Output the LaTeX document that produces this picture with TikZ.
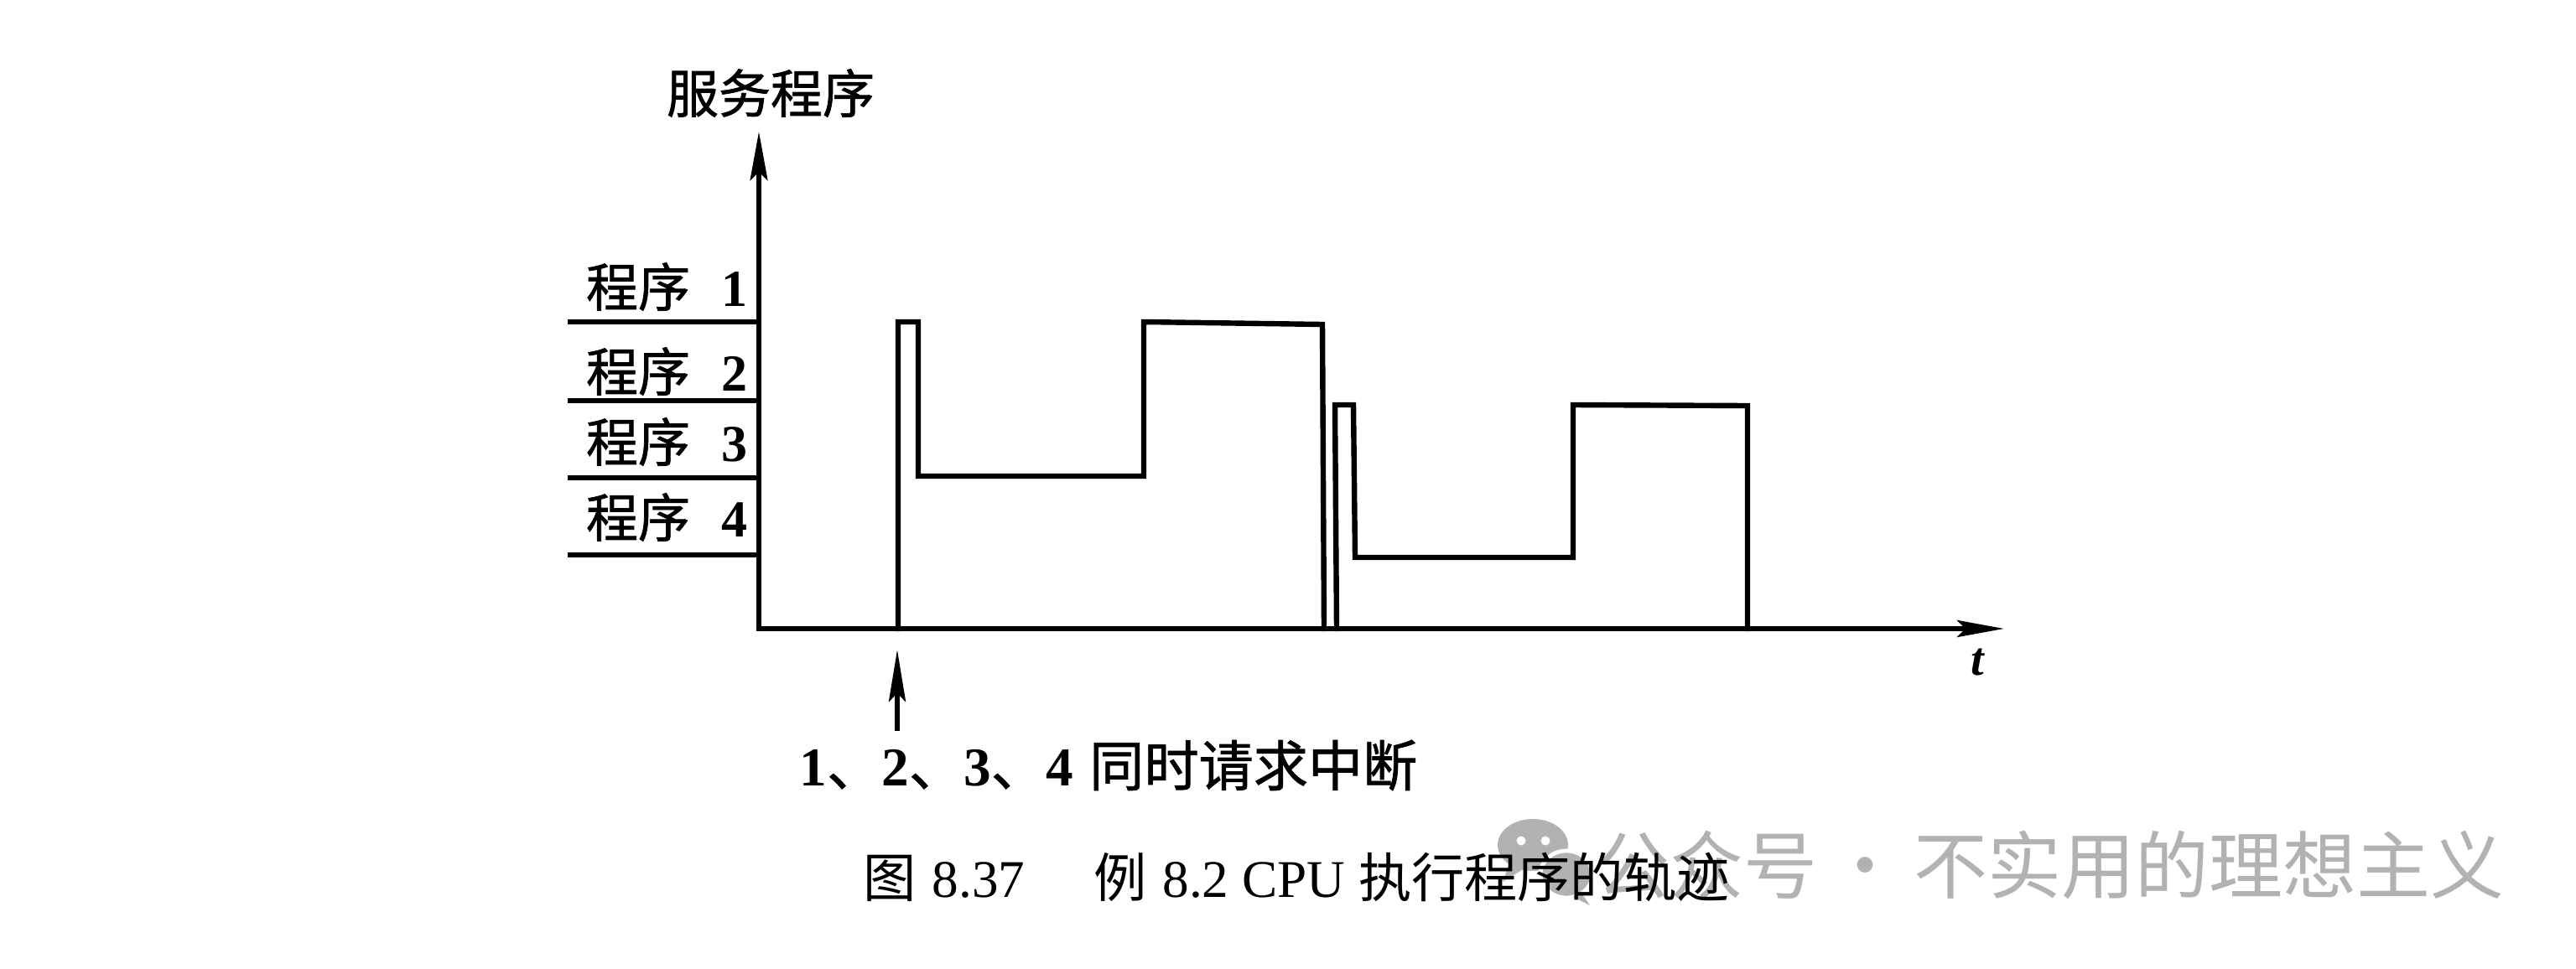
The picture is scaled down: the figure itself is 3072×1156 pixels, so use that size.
\documentclass[tikz,border=0pt]{standalone}
\usepackage{fontspec}
\setmainfont{Liberation Serif}
\newfontfamily\cjk{Noto Sans CJK SC}
\newfontfamily\cjkb[FakeBold=1.2]{Noto Sans CJK SC}
\usetikzlibrary{arrows.meta}
\definecolor{wmgray}{RGB}{178,178,178}
\begin{document}
\begin{tikzpicture}[x=0.25pt,y=-0.25pt,
  trace/.style={line width=1.6pt, line join=miter, line cap=rect},
  axisline/.style={line width=1.5pt},
  lbl/.style={inner sep=0pt, font=\fontsize{15.5}{18}\selectfont}]
\useasboundingbox (0,0) rectangle (3072,1156);
\fill[white] (0,0) rectangle (3072,1156);

% watermark (behind caption)
\fill[wmgray] (1828,1008) ellipse [x radius=42, y radius=31];
\fill[wmgray] (1800,1030) -- (1792,1052) -- (1818,1036) -- cycle;
\fill[white] (1814,1003) circle [radius=5.5];
\fill[white] (1843,1003) circle [radius=5.5];
\filldraw[fill=wmgray, draw=white, line width=1.2pt] (1868,1043) ellipse [x radius=31, y radius=28];
\fill[wmgray] (1885,1064) -- (1896,1080) -- (1876,1070) -- cycle;
\node[anchor=west, inner sep=0pt, text=wmgray, font=\cjk\fontsize{22}{26}\selectfont] (wm) at (1903,1032) {公众号\hspace{0.15em}·\hspace{0.15em}不实用的理想主义};

% axes
\coordinate (O) at (905,750);
\coordinate (Ytip) at (905,157);
\coordinate (Xtip) at (2390,750);
\draw[axisline, {Stealth[length=14.5pt,width=5.2pt,inset=2.5pt]}-{Stealth[length=14pt,width=5pt,inset=2.5pt]}] (Ytip) -- (O) -- (Xtip);

% level lines
\foreach \n/\y in {1/384, 2/478, 3/570, 4/662} {
  \coordinate (L\n) at (677,\y);
  \coordinate (A\n) at (905,\y);
  \draw[axisline] (L\n) -- (A\n);
}

% labels
\node[lbl, anchor=east] (p1) at (892,342) {{\cjkb 程序}\hspace{0.6em}\textbf{1}};
\node[lbl, anchor=east] (p2) at (892,443) {{\cjkb 程序}\hspace{0.6em}\textbf{2}};
\node[lbl, anchor=east] (p3) at (892,527) {{\cjkb 程序}\hspace{0.6em}\textbf{3}};
\node[lbl, anchor=east] (p4) at (892,617) {{\cjkb 程序}\hspace{0.6em}\textbf{4}};
\node[lbl] (ylab) at (919,111) {\cjkb 服务程序};
\node[inner sep=0pt, font=\fontsize{14}{16}\selectfont\bfseries\itshape] (tlab) at (2358,790) {t};

% traces
\draw[trace] (1071,750) -- (1071,384) -- (1095,384) -- (1095,568) -- (1364,568)
  -- (1364,384) -- (1577,387) -- (1579,750);
\draw[trace] (1594,750) -- (1592,483) -- (1614,483) -- (1616,665) -- (1876,665)
  -- (1876,483) -- (2084,484) -- (2084,750);

% interrupt arrow
\coordinate (irqtail) at (1070,872);
\coordinate (irqtip) at (1070,775);
\draw[line width=1.3pt, -{Stealth[length=15.5pt,width=5pt,inset=2.5pt]}] (irqtail) -- (irqtip);
\node[inner sep=0pt, font=\fontsize{16.3}{19}\selectfont] (irq) at (1322,913)
  {\textbf{1}{\cjkb 、}\textbf{2}{\cjkb 、}\textbf{3}{\cjkb 、}\textbf{4}\hspace{0.3em}{\cjkb 同时请求中断}};

% caption
\node[inner sep=0pt, font=\fontsize{15.8}{18}\selectfont] (cap) at (1546,1046)
  {{\cjk 图}\hspace{0.3em}8.37\hspace{1.3em}{\cjk 例}\hspace{0.3em}8.2 CPU {\cjk 执行程序的轨迹}};
\end{tikzpicture}
\end{document}
